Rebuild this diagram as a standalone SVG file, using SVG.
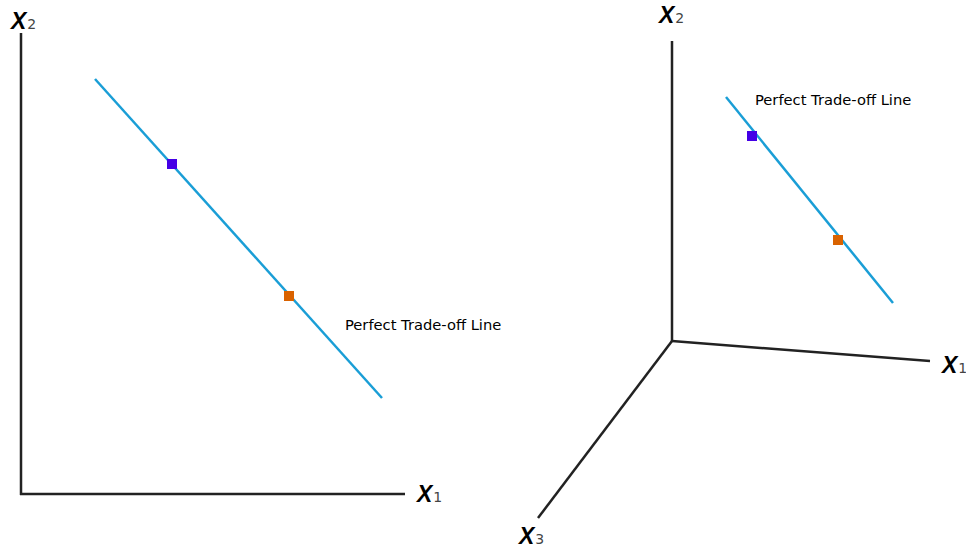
<svg xmlns="http://www.w3.org/2000/svg" width="966" height="548" viewBox="0 0 966 548">
<style>
.ax{stroke:#222;stroke-width:2.5;fill:none;stroke-linecap:butt}
.tl{stroke:#1a9ed6;stroke-width:2.5;fill:none}
.xl{font-family:"Liberation Sans",Arial,sans-serif;font-style:italic;font-weight:bold;font-size:23px;fill:#000}
.sub{font-family:"DejaVu Sans",sans-serif;font-size:14px;fill:#444;font-style:normal;font-weight:normal}
.lab{font-family:"DejaVu Sans",sans-serif;font-size:14.7px;fill:#000}
.b{fill:#4400e6}
.o{fill:#d96200}
</style>
<rect width="966" height="548" fill="#fff"/>
<g id="connectors">
<line class="ax" x1="21" y1="33" x2="21" y2="495"/>
<line class="ax" x1="20" y1="494" x2="405" y2="494"/>
<line class="ax" x1="672" y1="41" x2="672" y2="342"/>
<line class="ax" x1="672" y1="341" x2="930" y2="361"/>
<line class="ax" x1="672" y1="341" x2="538" y2="518"/>
<line class="tl" x1="95" y1="79" x2="382" y2="398"/>
<line class="tl" x1="726" y1="97" x2="893" y2="303"/>
</g>
<g id="left-labels">
<text class="xl" x="11" y="29">X<tspan class="sub" dx="1">2</tspan></text>
<text class="xl" x="417" y="502">X<tspan class="sub" dx="1">1</tspan></text>
<text class="lab" x="345" y="330">Perfect Trade-off Line</text>
</g>
<g id="left-points">
<rect class="b" x="167" y="159" width="10" height="10"/>
<rect class="o" x="284" y="291" width="10" height="10"/>
</g>
<g id="right-labels">
<text class="xl" x="659" y="23">X<tspan class="sub" dx="1">2</tspan></text>
<text class="xl" x="942" y="373">X<tspan class="sub" dx="1">1</tspan></text>
<text class="xl" x="519" y="544">X<tspan class="sub" dx="1">3</tspan></text>
<text class="lab" x="755" y="105">Perfect Trade-off Line</text>
</g>
<g id="right-points">
<rect class="b" x="747" y="131" width="10" height="10"/>
<rect class="o" x="833" y="235" width="10" height="10"/>
</g>
</svg>
